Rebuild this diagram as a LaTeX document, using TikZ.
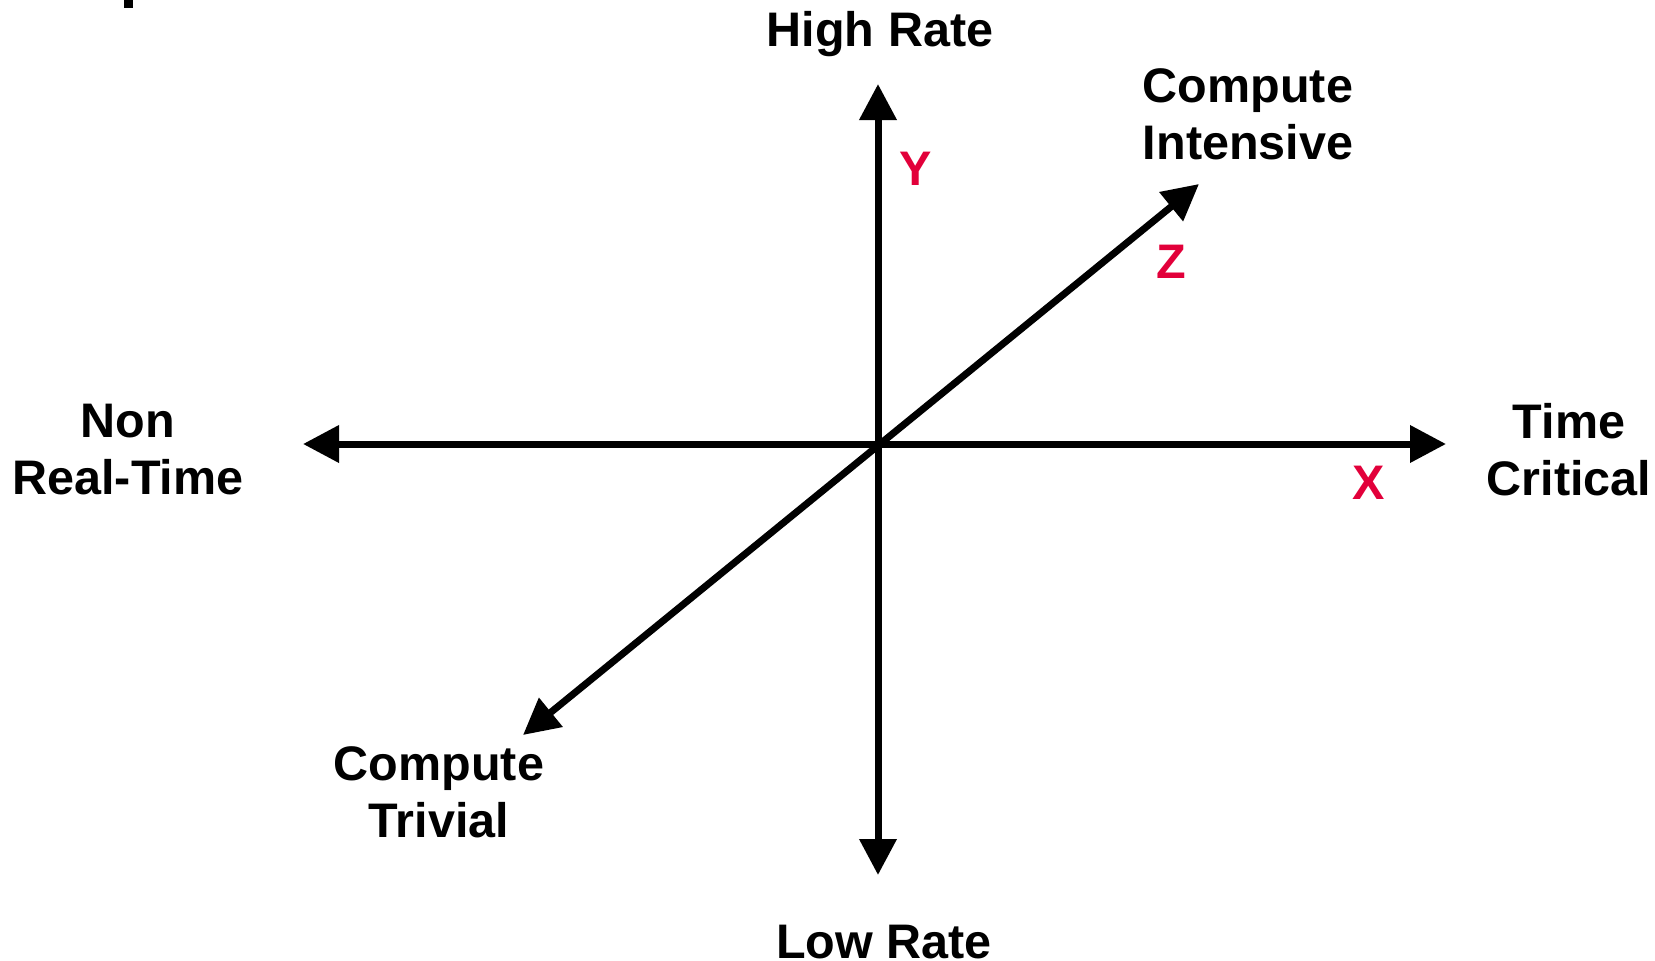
\documentclass[tikz,border=0pt]{standalone}
\usepackage{fontspec}
\setmainfont{Liberation Sans}
\usetikzlibrary{arrows.meta}
\definecolor{axred}{RGB}{226,0,58}
\tikzset{
  axis/.style={line width=7pt,{Triangle[length=36pt,width=36pt]}-{Triangle[length=36pt,width=36pt]}},
  lbl/.style={font=\fontsize{48.5}{57}\selectfont\bfseries,align=center,inner sep=0pt},
  axlbl/.style={font=\fontsize{48.5}{57}\selectfont\bfseries,text=axred,inner sep=0pt}
}
\begin{document}
\begin{tikzpicture}[x=1pt,y=-1pt]
\useasboundingbox (0,0) rectangle (1655,961);
\fill (124,0) rectangle (133,8);
\coordinate (O) at (878,444);
\coordinate (ytop) at (878,84);
\coordinate (ybot) at (878,875);
\coordinate (xl) at (303,444);
\coordinate (xr) at (1446,444);
\coordinate (zt) at (1199,184);
\coordinate (zb) at (523,735);
\draw[axis] (ybot) -- (ytop);
\draw[axis] (xl) -- (xr);
\draw[axis] (zb) -- (zt);
\node[lbl] (high) at (880,34) {High Rate};
\node[lbl] (low) at (884,942) {Low Rate};
\node[lbl] (ci) at (1248,114) {Compute\\Intensive};
\node[lbl] (ct) at (439,792) {Compute\\Trivial};
\node[lbl] (nrt) at (128,450) {Non\\Real-Time};
\node[lbl] (tc) at (1569,450) {Time\\Critical};
\node[axlbl] (Y) at (916,169) {Y};
\node[axlbl] (Z) at (1171,262) {Z};
\node[axlbl] (X) at (1369,483) {X};
\end{tikzpicture}
\end{document}
